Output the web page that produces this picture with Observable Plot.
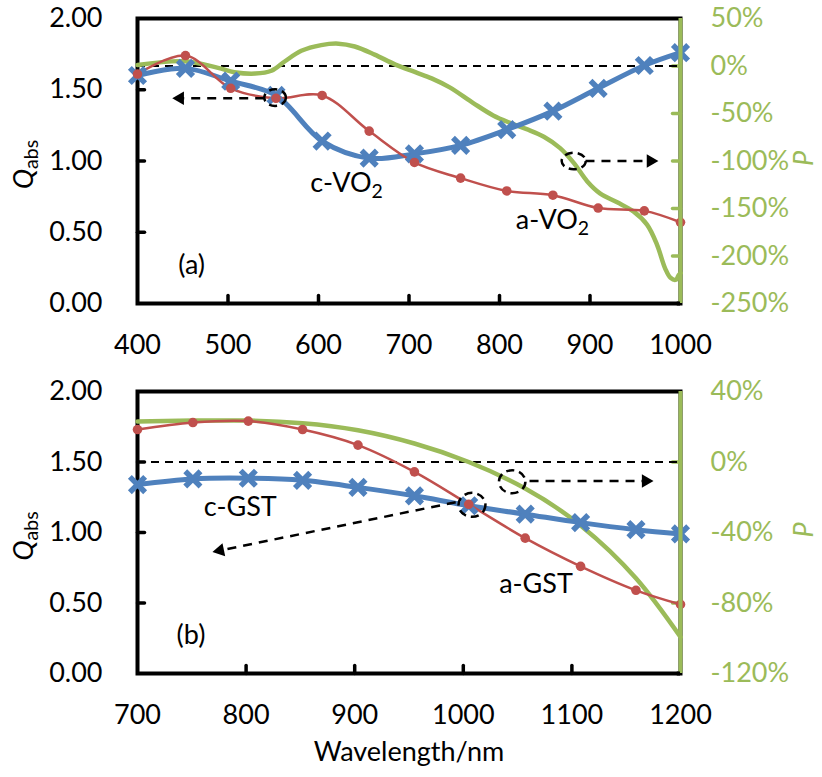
<!DOCTYPE html>
<html>
<head>
<meta charset="utf-8">
<script src="https://cdn.jsdelivr.net/npm/d3@7"></script>
<script src="https://cdn.jsdelivr.net/npm/@observablehq/plot@0.6"></script>
<style>
  body { margin: 0; background: #fff; }
  #chart { width: 822px; }
  #chart svg { display: block; }
</style>
</head>
<body>
<div id="chart"></div>
<script>
// ---- Panel (a): VO2, wavelength 400–1000 nm ----
const wlVO2 = [400, 453, 503, 553, 604, 656, 706, 757, 808, 859, 909, 960, 1000];
const qAbsCVO2 = [1.60, 1.65, 1.56, 1.46, 1.14, 1.02, 1.05, 1.11, 1.22, 1.35, 1.51, 1.67, 1.76];
const qAbsAVO2 = [1.61, 1.74, 1.51, 1.44, 1.46, 1.21, 0.99, 0.88, 0.79, 0.76, 0.67, 0.65, 0.57];
const wlPVO2 = [400, 452, 489, 507, 530, 548, 563, 581, 603, 622, 640, 662, 685, 707, 725, 745, 771,
                793, 812, 830, 849, 867, 882, 897, 911, 930, 948, 963, 974, 983, 989, 995, 998, 1000];
const pVO2 = [1, 5, -2, -6.5, -8, -5, 5, 16, 22, 23.5, 20.5, 12, 1.5, -6.5, -13, -22.5, -39,
              -52, -60, -66.5, -74.5, -86.5, -102, -121.5, -134, -143.5, -153, -167, -188, -213, -223, -225, -220, -218];
const xTicksA = [400, 500, 600, 700, 800, 900, 1000];
const pTicksA = [-250, -200, -150, -100, -50, 0, 50];

// ---- Panel (b): GST, wavelength 700–1200 nm ----
const wlGST = [700, 751, 802, 852, 903, 955, 1005, 1057, 1108, 1159, 1200];
const qAbsCGST = [1.34, 1.38, 1.385, 1.37, 1.32, 1.26, 1.19, 1.13, 1.07, 1.02, 0.99];
const qAbsAGST = [1.73, 1.78, 1.79, 1.73, 1.62, 1.43, 1.20, 0.96, 0.76, 0.59, 0.49];
const wlPGST = [700, 751, 802, 852, 903, 955, 1005, 1057, 1108, 1159, 1200];
const pGST = [23, 23.5, 23.5, 22, 18, 10.5, 0, -15, -36, -66, -99.3];
const xTicksB = [700, 800, 900, 1000, 1100, 1200];
const pTicksB = [-120, -80, -40, 0, 40];

const qTicks = [0, 0.5, 1, 1.5, 2];

// Callouts: dashed ellipses around a curve, and dashed arrows pointing to its axis
const calloutsA = {
  ellipses: [{w: 552, q: 1.445, r: 8.3, k: 1.3, rot: 0}, {w: 882, q: 1.0, r: 8.3, k: 1.45, rot: 0}],
  arrows: [{w1: 540, q1: 1.44, w2: 447, q2: 1.44, angle: 270}, {w1: 895, q1: 1.0, w2: 967, q2: 1.0, angle: 90}],
  labels: [{w: 591, q: 0.84, t: "c-VO2"}, {w: 818, q: 0.58, t: "a-VO2"}, {w: 445, q: 0.266, t: "(a)"}]
};
const calloutsB = {
  ellipses: [{w: 1008, q: 1.196, r: 12, k: 1.12, rot: 0}, {w: 1045, q: 1.36, r: 11.5, k: 1.15, rot: 0}],
  arrows: [{w1: 993, q1: 1.215, w2: 776, q2: 0.872, angle: 258.4}, {w1: 1061, q1: 1.365, w2: 1168, q2: 1.365, angle: 90}],
  labels: [{w: 761, q: 1.177, t: "c-GST"}, {w: 1033, q: 0.635, t: "a-GST"}, {w: 736, q: 0.27, t: "(b)"}]
};

const blue = "#4F81BD", red = "#C0504D", green = "#9BBB59";
const fontFamily = "Lato, 'Open Sans', sans-serif";
const fs = 27;

// inward tick: a straight stroke of length l
const tickShape = {draw(ctx, l) { ctx.moveTo(0, 0); ctx.lineTo(0, -l); }};
// ellipse symbol with horizontal stretch k
function ellipseSymbol(k) {
  return {draw(ctx, size) {
    const ry = Math.sqrt(size / Math.PI), rx = ry * k, c = 0.5523;
    ctx.moveTo(rx, 0);
    ctx.bezierCurveTo(rx, ry * c, rx * c, ry, 0, ry);
    ctx.bezierCurveTo(-rx * c, ry, -rx, ry * c, -rx, 0);
    ctx.bezierCurveTo(-rx, -ry * c, -rx * c, -ry, 0, -ry);
    ctx.bezierCurveTo(rx * c, -ry, rx, -ry * c, rx, 0);
    ctx.closePath();
  }};
}

function panel(cfg) {
  const {xDomain, xTicks, pDomain, pTicks, wl, qc, qa, pWl, p, pCurve, callouts, height, marginTop, marginBottom, xLabel} = cfg;
  // P (%) shares the plot area with Q_abs: map P onto the 0–2 range
  const toQ = v => 2 * (v - pDomain[0]) / (pDomain[1] - pDomain[0]);
  const fromQ = q => pDomain[0] + q / 2 * (pDomain[1] - pDomain[0]);
  const cRows = wl.map((w, i) => ({w, q: qc[i]}));
  const aRows = wl.map((w, i) => ({w, q: qa[i]}));
  const pRows = pWl.map((w, i) => ({w, p: p[i]}));

  const marks = [
    Plot.frame({stroke: "black", strokeWidth: 4}),
    Plot.vector(qTicks.slice(1, -1), {y: d => d, frameAnchor: "left", rotate: 90, length: 7, anchor: "start",
      shape: tickShape, stroke: "black", strokeWidth: 3.5}),
    Plot.vector(xTicks.slice(1, -1), {x: d => d, frameAnchor: "bottom", rotate: 0, length: 8, anchor: "start",
      shape: tickShape, stroke: "black", strokeWidth: 3.5}),
    Plot.vector(pTicks.slice(1, -1), {y: d => toQ(d), frameAnchor: "right", rotate: -90, length: 8, anchor: "start",
      shape: tickShape, stroke: green, strokeWidth: 3.5}),
    Plot.axisX({ticks: xTicks, tickSize: 0, tickPadding: 31, fontSize: fs, label: null, tickFormat: d => String(d)}),
    Plot.axisY({anchor: "left", ticks: qTicks, tickSize: 0, tickPadding: 35, fontSize: fs, label: null,
      tickFormat: d3.format(".2f")}),
    Plot.axisY({anchor: "right", ticks: pTicks.map(toQ), tickSize: 0, tickPadding: 30, fontSize: fs, label: null,
      color: green, tickFormat: q => `${Math.round(fromQ(q))}%`}),
    Plot.ruleY([toQ(0)], {stroke: "black", strokeWidth: 2, strokeDasharray: "8,6"}),
    Plot.line(pRows, {x: "w", y: d => toQ(d.p), stroke: green, strokeWidth: 4.5, curve: pCurve}),
    Plot.line(cRows, {x: "w", y: "q", stroke: blue, strokeWidth: 5, curve: "catmull-rom"}),
    Plot.line(aRows, {x: "w", y: "q", stroke: red, strokeWidth: 2.5, curve: "catmull-rom"}),
    Plot.dot(cRows, {x: "w", y: "q", symbol: "times", r: 7, stroke: blue, strokeWidth: 5.5}),
    Plot.dot(aRows, {x: "w", y: "q", r: 4.8, fill: red, stroke: "none"}),
    ...callouts.ellipses.map(e => Plot.dot([e], {x: "w", y: "q", r: e.r, symbol: ellipseSymbol(e.k), rotate: e.rot,
      stroke: "black", fill: "none", strokeWidth: 2.5, strokeDasharray: "8,5"})),
    Plot.link(callouts.arrows, {x1: "w1", y1: "q1", x2: "w2", y2: "q2", stroke: "black", strokeWidth: 2.5,
      strokeDasharray: "9,7"}),
    Plot.dot(callouts.arrows, {x: "w2", y: "q2", rotate: "angle", symbol: "triangle", r: 5, fill: "black", stroke: "none"}),
    Plot.text(callouts.labels, {x: "w", y: "q", text: "t", textAnchor: "start", lineAnchor: "middle",
      fontSize: fs, fill: "black"}),
    Plot.ruleX([xDomain[1]], {stroke: green, strokeWidth: 4}),
    Plot.ruleY([0], {stroke: "black", strokeWidth: 4, x1: xDomain[1] - (xDomain[1] - xDomain[0]) * 0.006, x2: xDomain[1]})
  ];
  if (xLabel) {
    marks.push(Plot.text([xLabel], {frameAnchor: "bottom", dy: 79, text: d => d, fontSize: fs, lineAnchor: "middle", fill: "black"}));
  }

  const chart = Plot.plot({
    width: 822, height, marginLeft: 137, marginRight: 142, marginTop, marginBottom,
    style: {fontFamily, fontSize: `${fs}px`, color: "black", background: "white", overflow: "visible"},
    x: {domain: xDomain},
    y: {domain: [0, 2]},
    marks
  });

  const svg = d3.select(chart);
  // subscript the trailing "2" of VO2
  svg.selectAll("text").filter(function () { return /VO2$/.test(this.textContent); }).each(function () {
    const s = this.textContent;
    const t = d3.select(this);
    t.text(s.slice(0, -1));
    t.append("tspan").attr("dy", "0.28em").attr("font-size", "0.72em").text("2");
  });

  // axis titles: Q_abs on the left, P on the right
  const yMid = chart.scale("y").apply(1);
  const qLab = svg.append("text")
    .attr("transform", `translate(33,${yMid + 4}) rotate(-90)`)
    .attr("text-anchor", "middle").attr("font-size", fs).attr("fill", "black");
  qLab.append("tspan").attr("font-style", "italic").text("Q");
  qLab.append("tspan").attr("font-size", "0.72em").attr("dy", "0.28em").text("abs");
  svg.append("text")
    .attr("transform", `translate(813,${yMid - 2}) rotate(-90)`)
    .attr("text-anchor", "middle").attr("font-size", fs).attr("font-style", "italic")
    .attr("fill", green).text("P");
  return chart;
}

const root = document.getElementById("chart");
root.append(panel({
  xDomain: [400, 1000], xTicks: xTicksA, pDomain: [-250, 50], pTicks: pTicksA,
  wl: wlVO2, qc: qAbsCVO2, qa: qAbsAVO2, pWl: wlPVO2, p: pVO2, pCurve: "catmull-rom", callouts: calloutsA,
  height: 370, marginTop: 18, marginBottom: 67
}));
root.append(panel({
  xDomain: [700, 1200], xTicks: xTicksB, pDomain: [-120, 40], pTicks: pTicksB,
  wl: wlGST, qc: qAbsCGST, qa: qAbsAGST, pWl: wlPGST, p: pGST, pCurve: "natural", callouts: calloutsB,
  height: 407, marginTop: 21, marginBottom: 104, xLabel: "Wavelength/nm"
}));
</script>
</body>
</html>
